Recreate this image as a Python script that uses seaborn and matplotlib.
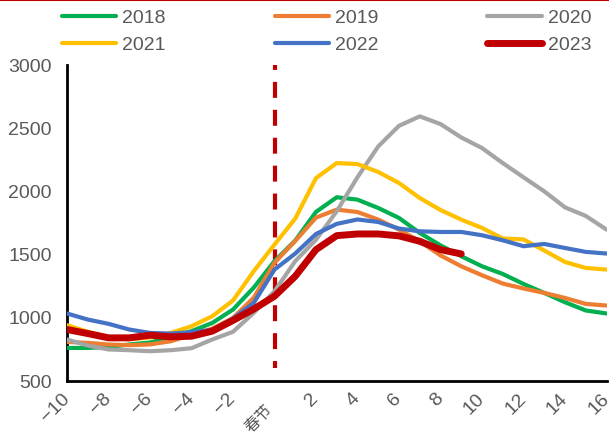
import numpy as np
import pandas as pd
import matplotlib
matplotlib.use("Agg")
import matplotlib.pyplot as plt
from matplotlib.lines import Line2D
import seaborn as sns

# Days relative to Spring Festival
days = list(range(-10, 17))
days_2023 = list(range(-10, 10))

v2018 = [762, 762, 770, 789, 805, 845, 895, 960, 1066, 1240, 1450, 1613, 1840, 1956, 1937,
         1871, 1792, 1673, 1575, 1489, 1409, 1348, 1269, 1198, 1124, 1059, 1035]
v2019 = [810, 802, 789, 784, 790, 815, 865, 915, 1000, 1160, 1437, 1610, 1795, 1858, 1839,
         1779, 1700, 1607, 1495, 1409, 1338, 1272, 1233, 1198, 1158, 1111, 1098]
v2020 = [829, 781, 750, 744, 736, 744, 760, 829, 890, 1040, 1211, 1450, 1620, 1845, 2115,
         2359, 2522, 2597, 2536, 2430, 2346, 2227, 2114, 2003, 1876, 1808, 1700]
v2021 = [942, 890, 850, 830, 845, 881, 934, 1013, 1138, 1370, 1581, 1787, 2108, 2227, 2219,
         2156, 2069, 1950, 1855, 1779, 1713, 1629, 1622, 1534, 1443, 1396, 1383]
v2022 = [1035, 987, 953, 908, 881, 876, 887, 905, 995, 1119, 1383, 1510, 1665, 1745, 1780,
         1760, 1708, 1686, 1681, 1681, 1655, 1615, 1568, 1586, 1554, 1523, 1510]
v2023 = [908, 876, 842, 842, 863, 850, 855, 895, 980, 1070, 1172, 1330, 1541, 1652, 1665,
         1665, 1650, 1607, 1541, 1507]

years = ["2018", "2019", "2020", "2021", "2022", "2023"]
colors = ["#00B050", "#ED7D31", "#A5A5A5", "#FFC000", "#4472C4", "#C00000"]
widths = [3.0, 3.0, 3.0, 3.0, 3.0, 5.0]

tick_pos = list(range(-10, 17))
tick_text = ["\u221210", "", "\u22128", "", "\u22126", "", "\u22124", "", "\u22122", "", "",
             "", "2", "", "4", "", "6", "", "8", "", "10", "", "12", "", "14", "", "16"]
festival_label = "春节"

frames = []
for yr, vals in zip(years, [v2018, v2019, v2020, v2021, v2022, v2023]):
    x = days_2023 if yr == "2023" else days
    frames.append(pd.DataFrame({"day": x, "value": vals, "year": yr}))
df = pd.concat(frames, ignore_index=True)

sns.set_style("white")
plt.rcParams["font.family"] = ["Liberation Sans", "Noto Sans CJK SC", "DejaVu Sans"]
plt.rcParams["lines.scale_dashes"] = False

fig = plt.figure(figsize=(6.09, 4.36), dpi=100)
ax = fig.add_axes([67 / 609, 1 - 381 / 436, (606.5 - 67) / 609, (381 - 65.5) / 436])

text_color = "#595959"

# festival marker
ax.plot([0, 0], [600, 3000], color="#C00000", lw=3,
        linestyle=(6.5, (11.5, 8.6)), solid_capstyle="butt", zorder=1)

for yr, col, lw in zip(years, colors, widths):
    sns.lineplot(data=df[df["year"] == yr], x="day", y="value", color=col,
                 linewidth=lw, ax=ax, legend=False, zorder=3,
                 solid_capstyle="round", solid_joinstyle="round")

ax.set_xlim(-10, 16)
ax.set_ylim(500, 3000)
ax.set_xlabel("")
ax.set_ylabel("")
ax.set_yticks([500, 1000, 1500, 2000, 2500, 3000])
ax.set_xticks(tick_pos)
ax.set_xticklabels(tick_text, rotation=45, ha="right", va="center",
                   rotation_mode="anchor")

# day-zero label, set a little lower than the numeric labels
ax.annotate(festival_label, xy=(0, 0), xycoords=("data", "axes fraction"),
            xytext=(-3, -19), textcoords="offset points", rotation=45,
            ha="right", va="center", rotation_mode="anchor",
            fontsize=11.5, color=text_color, annotation_clip=False)

for s in ["top", "right"]:
    ax.spines[s].set_visible(False)
for s in ["left", "bottom"]:
    ax.spines[s].set_linewidth(2.0)
    ax.spines[s].set_color("black")

ax.tick_params(axis="both", direction="in", length=4.5, width=1.4, color="black",
               labelsize=14, labelcolor=text_color)
ax.tick_params(axis="y", pad=11)
ax.tick_params(axis="x", pad=11)

# legend laid out row by row: matplotlib fills columns first, so reorder
handles = [Line2D([], [], color=c, lw=w, solid_capstyle="round") for c, w in zip(colors, widths)]
order = [0, 3, 1, 4, 2, 5]
fig.legend([handles[i] for i in order], [years[i] for i in order], ncol=3,
           loc="upper left", bbox_to_anchor=(62 / 609, 1 - 9 / 436), frameon=False,
           fontsize=14, labelcolor=text_color, handlelength=2.8,
           handletextpad=0.3, columnspacing=5.6, labelspacing=0.5,
           borderpad=0, borderaxespad=0)

# red rule along the top edge
fig.add_artist(Line2D([0, 1], [0.999, 0.999], transform=fig.transFigure,
                      color="#C00000", lw=1.5))

fig.savefig("out.png", dpi=100)
